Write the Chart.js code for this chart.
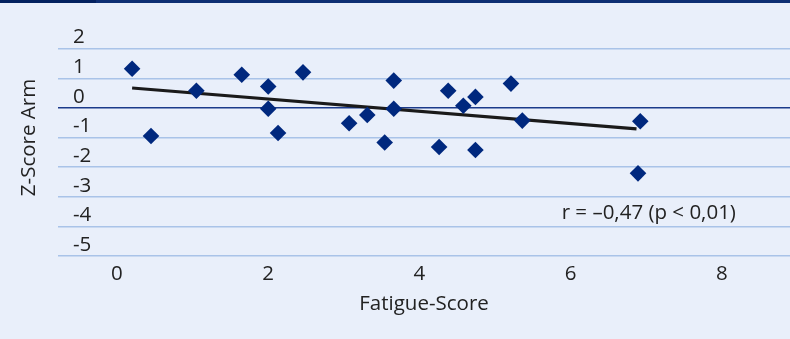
<!DOCTYPE html>
<html>
<head>
<meta charset="utf-8">
<script src="https://cdn.jsdelivr.net/npm/chart.js@4/dist/chart.umd.min.js"></script>
<style>
  html, body { margin: 0; padding: 0; background: #E9EFFA; }
  #wrap { width: 790px; height: 339px; position: relative; }
</style>
</head>
<body>
<div id="wrap"><canvas id="c" width="790" height="339"></canvas></div>
<script>
// ---- data ----
const fatigueScore = [0.2, 0.45, 1.05, 1.65, 2.0, 2.0, 2.13, 2.46, 3.07, 3.31, 3.54, 3.66, 3.66, 4.26, 4.38, 4.58, 4.74, 4.74, 5.21, 5.36, 6.92, 6.89];
const zScoreArm    = [1.32, -0.95, 0.58, 1.12, 0.72, -0.03, -0.85, 1.2, -0.52, -0.24, -1.17, 0.92, -0.03, -1.32, 0.58, 0.07, 0.37, -1.42, 0.82, -0.43, -0.45, -2.21];
const trendX = [0.2, 6.87];
const trendY = [0.67, -0.71];
const xTicks = [0, 2, 4, 6, 8];
const yTicks = [2, 1, 0, -1, -2, -3, -4, -5];
const xTitle = 'Fatigue-Score';
const yTitle = 'Z-Score Arm';
const annotationText = 'r = \u20130,47 (p < 0,01)';

const FONT = "'Open Sans', 'Noto Sans', sans-serif";
const FSIZE = 20.5;
const TEXT = '#222222';

const pointsData = fatigueScore.map((x, i) => ({ x: x, y: zScoreArm[i] }));
const trendData = trendX.map((x, i) => ({ x: x, y: trendY[i] }));

const backgroundPlugin = {
  id: 'bg',
  beforeDraw(chart) {
    const ctx = chart.ctx;
    ctx.save();
    ctx.fillStyle = '#E9EFFA';
    ctx.fillRect(0, 0, chart.width, chart.height);
    ctx.fillStyle = '#0E2F73';
    ctx.fillRect(0, 0, chart.width, 3);
    ctx.fillStyle = '#03215F';
    ctx.fillRect(0, 0, 96, 3);
    ctx.restore();
  }
};

const annotationPlugin = {
  id: 'annot',
  afterDatasetsDraw(chart) {
    const ctx = chart.ctx;
    const xs = chart.scales.x, ys = chart.scales.y;
    ctx.save();
    ctx.font = FSIZE + "px " + FONT;
    ctx.fillStyle = TEXT;
    ctx.textAlign = 'left';
    ctx.textBaseline = 'middle';
    ctx.fillText(annotationText, xs.getPixelForValue(5.88), ys.getPixelForValue(-3.55));
    ctx.restore();
  }
};

function zeroPad(ax) {
  ax.paddingLeft = 0; ax.paddingRight = 0; ax.paddingTop = 0; ax.paddingBottom = 0;
}

new Chart(document.getElementById('c'), {
  data: {
    datasets: [
      {
        type: 'scatter',
        label: 'Z-Score Arm',
        data: pointsData,
        pointStyle: 'rectRot',
        pointRadius: 8.3,
        pointHoverRadius: 8.3,
        backgroundColor: '#00287E',
        borderColor: '#00287E',
        borderWidth: 0,
        order: 0
      },
      {
        type: 'line',
        label: 'Trend',
        data: trendData,
        borderColor: '#1A1A1A',
        borderWidth: 3.2,
        pointRadius: 0,
        fill: false,
        order: 1
      }
    ]
  },
  options: {
    responsive: false,
    animation: false,
    devicePixelRatio: 1,
    layout: { autoPadding: false, padding: { left: 8, top: 19, right: 0, bottom: 19 } },
    plugins: {
      legend: { display: false },
      tooltip: { enabled: false }
    },
    scales: {
      x: {
        type: 'linear',
        min: -0.78,
        max: 8.9,
        afterBuildTicks: (ax) => { ax.ticks = xTicks.map(v => ({ value: v })); },
        afterFit: (ax) => { ax.height = 64; zeroPad(ax); },
        grid: { display: false, drawTicks: false },
        border: { display: false },
        ticks: {
          padding: 6,
          color: TEXT,
          font: { family: FONT, size: FSIZE }
        },
        title: {
          display: true,
          text: xTitle,
          color: TEXT,
          font: { family: FONT, size: FSIZE },
          padding: { top: 2, bottom: 4 }
        }
      },
      y: {
        type: 'linear',
        min: -5,
        max: 3,
        afterBuildTicks: (ax) => { ax.ticks = yTicks.map(v => ({ value: v })); },
        afterFit: (ax) => { ax.width = 50; zeroPad(ax); },
        grid: {
          drawTicks: false,
          color: (c) => (c.tick && c.tick.value === 0) ? '#1B3A8A' : '#A9C3E8',
          lineWidth: 1.5
        },
        border: { display: false },
        ticks: {
          mirror: true,
          padding: 15,
          labelOffset: -11,
          color: TEXT,
          font: { family: FONT, size: FSIZE }
        },
        title: {
          display: true,
          text: yTitle,
          color: TEXT,
          font: { family: FONT, size: FSIZE },
          padding: { top: 8.7, bottom: 0 }
        }
      }
    }
  },
  plugins: [backgroundPlugin, annotationPlugin]
});
</script>
</body>
</html>
